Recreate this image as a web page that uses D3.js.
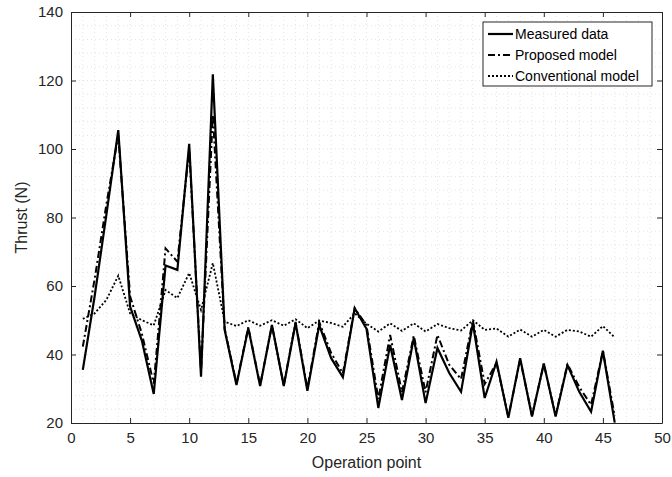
<!DOCTYPE html>
<html>
<head>
<meta charset="utf-8">
<script src="https://cdn.jsdelivr.net/npm/d3@7"></script>
<style>
  body { margin: 0; background: #fff; }
  text { font-family: "Liberation Sans", Arial, sans-serif; }
</style>
</head>
<body>
<svg id="chart" width="672" height="477"></svg>
<script>
// operation points 1..46
const points = d3.range(1, 47);

const measured = [35.5, 57, 81, 105.5, 54, 44, 28.5, 66, 64.7, 101.5,
  33.5, 121.8, 47.2, 31.1, 47.7, 30.8, 48.6, 30.8, 49.2, 29.4,
  48.6, 39, 33.4, 53.5, 47.5, 24.4, 42.8, 26.7, 44.8, 25.8,
  41.9, 34.6, 29.1, 49.2, 27.3, 37.9, 21.5, 38.9, 21.9, 37.4,
  21.9, 36.9, 29.1, 23.3, 41.1, 20.1];

const proposed = [42.3, 62, 84, 104, 57, 46, 31.5, 71, 67.1, 100,
  35, 110, 47.5, 31.5, 48, 31, 48.5, 31, 49.5, 30,
  49.5, 40.5, 34.5, 53.5, 48.5, 27, 45.7, 29, 45.5, 29,
  45.7, 37, 32.8, 50, 31.4, 37.5, 21.8, 38.5, 22.2, 37.2,
  22.2, 37.2, 30.5, 25.3, 41, 22];

const conventional = [50.4, 52, 56, 63, 52, 50, 48.5, 58.8, 56.5, 63.8,
  53, 66.7, 49.6, 48.3, 50, 48.4, 50, 48.4, 50.3, 47.7,
  49.9, 49.2, 48.1, 52, 49, 46.7, 49.1, 46.9, 49.1, 46.7,
  48.9, 47.7, 47, 50, 47.2, 47.6, 45.2, 47.3, 45.2, 47.2,
  45.2, 47.2, 46.7, 45.2, 48.3, 45];

const xTicks = [0, 5, 10, 15, 20, 25, 30, 35, 40, 45, 50];
const yTicks = [20, 40, 60, 80, 100, 120, 140];

const series = [
  { name: "Measured data", values: measured, dash: null, width: 2.2 },
  { name: "Proposed model", values: proposed, dash: "7,3,2,3", width: 2 },
  { name: "Conventional model", values: conventional, dash: "2,2", width: 1.8 }
];

const margin = { top: 12, right: 10, bottom: 54, left: 71 };
const width = 672 - margin.left - margin.right;
const height = 477 - margin.top - margin.bottom;
const axisColor = "#262626";

const svg = d3.select("#chart")
  .append("g")
  .attr("transform", `translate(${margin.left},${margin.top})`);

const x = d3.scaleLinear().domain([0, 50]).range([0, width]);
const y = d3.scaleLinear().domain([20, 140]).range([height, 0]);

// minor grid
svg.append("g")
  .selectAll("line")
  .data(d3.range(1, 50))
  .join("line")
  .attr("x1", d => x(d)).attr("x2", d => x(d))
  .attr("y1", 0).attr("y2", height)
  .attr("stroke", "#d8d8d8")
  .attr("stroke-width", 0.7)
  .attr("stroke-dasharray", "1,3");

svg.append("g")
  .selectAll("line")
  .data(d3.range(24, 140, 4))
  .join("line")
  .attr("x1", 0).attr("x2", width)
  .attr("y1", d => y(d)).attr("y2", d => y(d))
  .attr("stroke", "#d8d8d8")
  .attr("stroke-width", 0.7)
  .attr("stroke-dasharray", "1,3");

// lines
const line = d3.line()
  .x((d, i) => x(points[i]))
  .y(d => y(d));

series.forEach(s => {
  svg.append("path")
    .datum(s.values)
    .attr("fill", "none")
    .attr("stroke", "#000")
    .attr("stroke-width", s.width)
    .attr("stroke-dasharray", s.dash)
    .attr("stroke-linejoin", "miter")
    .attr("d", line);
});

// axes (ticks inward, box)
const xAxis = svg.append("g")
  .attr("transform", `translate(0,${height})`)
  .call(d3.axisBottom(x).tickValues(xTicks).tickSizeInner(-5).tickSizeOuter(0).tickPadding(9));
const xTop = svg.append("g")
  .call(d3.axisTop(x).tickValues(xTicks).tickSizeInner(-5).tickSizeOuter(0).tickFormat(""));
const yAxis = svg.append("g")
  .call(d3.axisLeft(y).tickValues(yTicks).tickSizeInner(-5).tickSizeOuter(0).tickPadding(8));
const yRight = svg.append("g")
  .attr("transform", `translate(${width},0)`)
  .call(d3.axisRight(y).tickValues(yTicks).tickSizeInner(-5).tickSizeOuter(0).tickFormat(""));

[xAxis, xTop, yAxis, yRight].forEach(a => {
  a.select(".domain").attr("stroke", axisColor).attr("stroke-width", 1);
  a.selectAll(".tick line").attr("stroke", axisColor);
  a.selectAll("text").attr("fill", axisColor).style("font-size", "15px");
});

// axis titles
svg.append("text")
  .attr("x", width / 2)
  .attr("y", height + 45)
  .attr("text-anchor", "middle")
  .attr("fill", axisColor)
  .style("font-size", "16px")
  .text("Operation point");

svg.append("text")
  .attr("transform", "rotate(-90)")
  .attr("x", -height / 2)
  .attr("y", -44)
  .attr("text-anchor", "middle")
  .attr("fill", axisColor)
  .style("font-size", "16px")
  .text("Thrust (N)");

// legend
const legend = svg.append("g")
  .attr("transform", `translate(${483 - margin.left},${22 - margin.top})`);

legend.append("rect")
  .attr("width", 169)
  .attr("height", 64)
  .attr("fill", "#fff")
  .attr("stroke", axisColor)
  .attr("stroke-width", 1);

series.forEach((s, i) => {
  const ly = 12 + i * 21;
  legend.append("line")
    .attr("x1", 5).attr("x2", 30)
    .attr("y1", ly).attr("y2", ly)
    .attr("stroke", "#000")
    .attr("stroke-width", s.width)
    .attr("stroke-dasharray", s.dash);
  legend.append("text")
    .attr("x", 32)
    .attr("y", ly)
    .attr("dy", "0.35em")
    .attr("fill", "#000")
    .style("font-size", "14px")
    .text(s.name);
});
</script>
</body>
</html>
